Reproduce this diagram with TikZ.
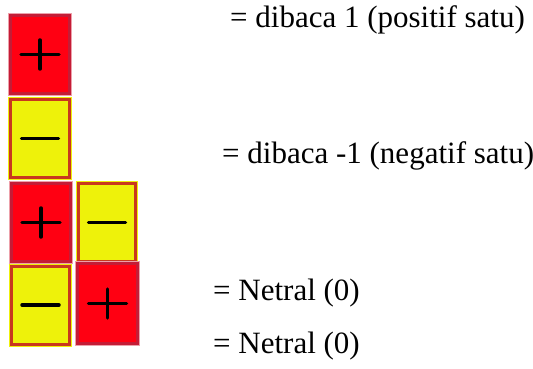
\documentclass[tikz,border=0pt]{standalone}
\usepackage{fontspec}
\setmainfont{Liberation Serif}
\definecolor{tred}{HTML}{FF0012}
\definecolor{tcrim}{HTML}{C41C36}
\definecolor{tpink}{HTML}{EDA0AA}
\definecolor{tyel}{HTML}{EEF20A}
\definecolor{tbrown}{HTML}{C8381E}
\begin{document}
\begin{tikzpicture}[x=1pt,y=-1pt,
  tile/.style={inner sep=0pt, line width=3pt, minimum width=59pt, minimum height=78pt},
  redtile/.style={tile, fill=tred, draw=tcrim, preaction={draw=tpink, line width=5pt},
    path picture={\draw[signline] ([xshift=-19pt]path picture bounding box.center) -- ([xshift=19pt]path picture bounding box.center);
                  \draw[signline] ([yshift=-14.5pt]path picture bounding box.center) -- ([yshift=14.5pt]path picture bounding box.center);}},
  yeltile/.style={tile, fill=tyel, draw=tbrown, preaction={draw=tyel, line width=5pt},
    path picture={\draw[signline] ([xshift=-18.5pt]path picture bounding box.center) -- ([xshift=18.5pt]path picture bounding box.center);}},
  signline/.style={line width=3.5pt, line cap=round, black},
  lbl/.style={anchor=base west, inner sep=0pt, font=\fontsize{31}{37}\selectfont}]
\useasboundingbox (0,0) rectangle (533,369);
\fill[white] (0,0) rectangle (533,369);
\node[redtile] (t1) at (40,54.5) {};
\node[yeltile] (t2) at (40,138.5) {};
\node[redtile] (t3) at (41,222.5) {};
\node[yeltile, minimum width=57pt] (t4) at (107,222.5) {};
\node[yeltile, minimum width=58pt] (t5) at (40.5,305) {};
\node[redtile, minimum width=60pt, minimum height=80pt] (t6) at (107.5,303.5) {};
\node[lbl] (l1) at (230,28) {= dibaca 1 (positif satu)};
\node[lbl] (l2) at (222,163) {= dibaca -1 (negatif satu)};
\node[lbl] (l3) at (213,300) {= Netral (0)};
\node[lbl] (l4) at (213,353) {= Netral (0)};
\end{tikzpicture}
\end{document}
